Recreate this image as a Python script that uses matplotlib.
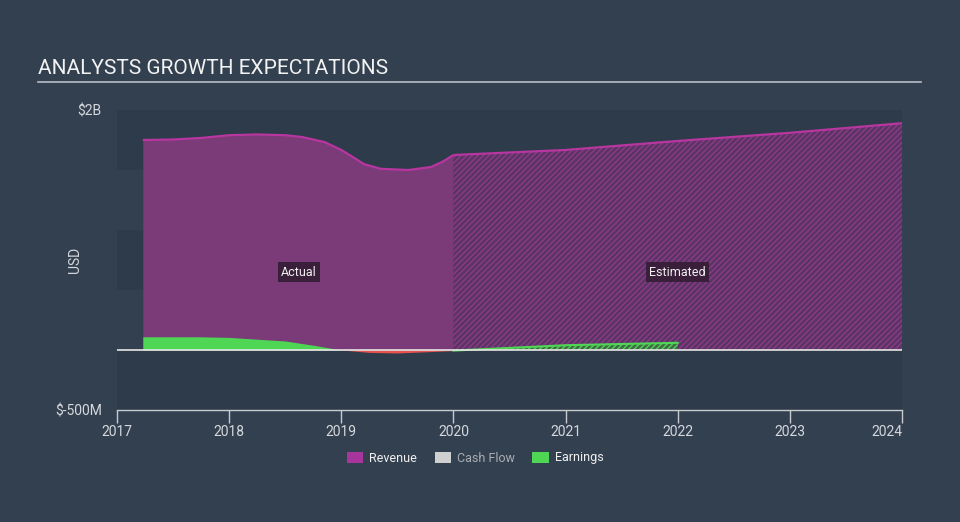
import matplotlib
matplotlib.use("Agg")
import matplotlib.pyplot as plt
from matplotlib.patches import Patch
import numpy as np

plt.rcParams['font.family'] = ['Roboto', 'DejaVu Sans']
plt.rcParams['hatch.linewidth'] = 1.0

# ---- data (USD billions) ----
rev_act_x = [2017.23, 2017.5, 2017.75, 2018.0, 2018.25, 2018.5, 2018.65, 2018.85,
             2019.0, 2019.1, 2019.2, 2019.35, 2019.6, 2019.8, 2019.9, 2020.0]
rev_act_y = [1.75, 1.754, 1.767, 1.79, 1.796, 1.79, 1.775, 1.733,
             1.667, 1.61, 1.55, 1.51, 1.50, 1.525, 1.567, 1.625]
rev_est_x = [2020.0, 2021.0, 2022.0, 2023.0, 2024.0]
rev_est_y = [1.625, 1.667, 1.742, 1.81, 1.89]

earn_act_x = [2017.23, 2017.75, 2018.0, 2018.25, 2018.5, 2018.75, 2019.0,
              2019.25, 2019.5, 2019.75, 2020.0]
earn_act_y = [0.11, 0.11, 0.105, 0.09, 0.075, 0.04, 0.0,
              -0.02, -0.025, -0.015, -0.005]
earn_est_x = [2020.0, 2021.0, 2022.0]
earn_est_y = [-0.005, 0.04, 0.06]

years = [2017, 2018, 2019, 2020, 2021, 2022, 2023, 2024]
legend_labels = ["Revenue", "Cash Flow", "Earnings"]

# ---- style ----
FIG_BG = '#334050'
BAND_DARK = '#2e3b4a'
BAND_LIGHT = '#334050'
REV_FILL = '#7b3a78'
REV_LINE = '#b8369f'
REV_EST_FACE = '#5a3463'
REV_EST_HATCH = '#8e3a8a'
EARN = '#4fd655'
EARN_NEG = '#e8524d'
TXT = '#d5d8dc'

fig = plt.figure(figsize=(9.6, 5.22), dpi=100, facecolor=FIG_BG)
ax = fig.add_axes([117/960, 1-410/522, (902-117)/960, 300/522])
ax.set_facecolor(BAND_LIGHT)
ax.set_xlim(2017, 2024)
ax.set_ylim(-0.5, 2.0)

# horizontal bands
for i, (lo, hi) in enumerate([(1.5, 2.0), (1.0, 1.5), (0.5, 1.0), (0.0, 0.5), (-0.5, 0.0)]):
    ax.axhspan(lo, hi, color=BAND_DARK if i % 2 == 0 else BAND_LIGHT, lw=0, zorder=0)

# revenue actual
ax.fill_between(rev_act_x, 0, rev_act_y, color=REV_FILL, lw=0, zorder=1)
ax.plot(rev_act_x, rev_act_y, color=REV_LINE, lw=1.6, zorder=3, solid_capstyle='butt')
# revenue estimated
ax.fill_between(rev_est_x, 0, rev_est_y, facecolor=REV_EST_FACE, edgecolor=REV_EST_HATCH,
                hatch='//////', lw=0, zorder=1)
ax.plot(rev_est_x, rev_est_y, color=REV_LINE, lw=1.6, zorder=3, solid_capstyle='butt')

# earnings actual
ex = np.array(earn_act_x); ey = np.array(earn_act_y)
ax.fill_between(ex, 0, ey, where=ey >= 0, interpolate=True, color=EARN, lw=0, zorder=2)
ax.fill_between(ex, 0, ey, where=ey <= 0, interpolate=True, color=EARN_NEG, lw=0, zorder=2)
# earnings estimated
ax.fill_between(earn_est_x, 0, earn_est_y, facecolor='#3f6a45', edgecolor=EARN,
                hatch='//////', lw=0, zorder=2)
ax.plot(earn_est_x, earn_est_y, color=EARN, lw=1.5, zorder=3)

# zero line
ax.axhline(0, color='#e6e6e6', lw=1.2, zorder=4)

# labels Actual / Estimated
box = dict(boxstyle='square,pad=0.25', fc='#3a1f3b', ec='none')
ax.text(2018.62, 0.65, 'Actual', color='#f0f0f0', fontsize=9, ha='center', va='center', bbox=box, zorder=5)
ax.text(2022.0, 0.65, 'Estimated', color='#f0f0f0', fontsize=9, ha='center', va='center', bbox=box, zorder=5)

# axes styling
for s in ['top', 'right', 'left']:
    ax.spines[s].set_visible(False)
ax.spines['bottom'].set_color('#c8ccd0')
ax.spines['bottom'].set_linewidth(1)
ax.set_xticks(years)
ax.set_xticklabels([str(y) for y in years])
ax.tick_params(axis='x', colors='#c8ccd0', labelcolor=TXT, labelsize=10, length=9, width=1, pad=2)
ax.get_xticklabels()[-1].set_ha('right')
ax.set_yticks([-0.5, 2.0])
ax.set_yticklabels(['$-500M', '$2B'])
ax.tick_params(axis='y', length=0, labelcolor=TXT, labelsize=10, pad=11)
ax.set_ylabel('USD', color=TXT, fontsize=10)
ax.yaxis.set_label_coords((82-117)/785, 0.5)

# title
fig.text(38/960, 1-68/522, 'ANALYSTS GROWTH EXPECTATIONS', color='#f2f2f2', fontsize=15,
         ha='left', va='center')
fig.add_artist(plt.Line2D([38/960, 921/960], [1-82/522, 1-82/522], color='#b8bec6', lw=1.2))

# legend
handles = [Patch(facecolor='#a8359c', edgecolor='none'),
           Patch(facecolor='#d0d0d0', edgecolor='none'),
           Patch(facecolor='#4fd655', edgecolor='none')]
leg = fig.legend(handles, legend_labels, loc='center', bbox_to_anchor=(0.495, 1-458/522),
                 ncol=3, frameon=False, fontsize=9, handlelength=1.3, handleheight=1.0,
                 columnspacing=1.4, handletextpad=0.5)
for t, c in zip(leg.get_texts(), ['#f0f0f0', '#a9adb3', '#f0f0f0']):
    t.set_color(c)

fig.savefig('out.png', dpi=100, facecolor=FIG_BG)
